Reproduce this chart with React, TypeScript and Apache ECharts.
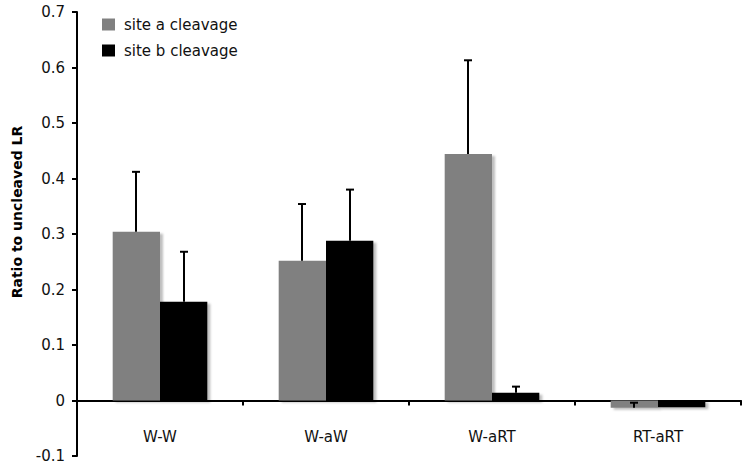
import React, { useEffect, useRef } from "react";
import * as echarts from "echarts";

const categories = ["W-W", "W-aW", "W-aRT", "RT-aRT"];
const siteA = [0.304, 0.252, 0.444, -0.013];
const siteB = [0.178, 0.288, 0.014, -0.012];
const errA = [0.108, 0.102, 0.169, 0.009];
const errB = [0.09, 0.092, 0.011, 0];
const seriesNames = ["site a cleavage", "site b cleavage"];
const yTicks = [-0.1, 0, 0.1, 0.2, 0.3, 0.4, 0.5, 0.6, 0.7];

const GAP = 0.43;
const FONT = "DejaVu Sans, Verdana, sans-serif";

function errorSeries(values: number[], errs: number[], sign: number) {
  return {
    type: "custom",
    silent: true,
    z: 5,
    data: values.map((v, i) => [i, v, errs[i]]),
    renderItem: (params: any, api: any) => {
      const idx = api.value(0);
      const val = api.value(1);
      const err = api.value(2);
      if (!err) return { type: "group", children: [] };
      const base = api.coord([idx, val]);
      const top = api.coord([idx, val + err]);
      const band = api.size([1, 0])[0];
      const bw = (band * (1 - GAP)) / 2;
      const x = Math.round(base[0] + (sign * bw) / 2);
      const st = { stroke: "#000", lineWidth: 2 };
      return {
        type: "group",
        children: [
          { type: "line", shape: { x1: x, y1: base[1], x2: x, y2: top[1] }, style: st },
          { type: "line", shape: { x1: x - 4, y1: top[1], x2: x + 4, y2: top[1] }, style: st },
        ],
      };
    },
  };
}

export default function App() {
  const ref = useRef<HTMLDivElement>(null);
  useEffect(() => {
    if (!ref.current) return;
    document.body.style.margin = "0";
    const chart = echarts.init(ref.current, undefined, { renderer: "svg" });
    const shadow = {
      shadowColor: "rgba(0,0,0,0.25)",
      shadowBlur: 2,
      shadowOffsetX: 3,
      shadowOffsetY: 2,
    };
    chart.setOption({
      animation: false,
      backgroundColor: "#fff",
      textStyle: { fontFamily: FONT },
      grid: {
        left: 77,
        right: 9,
        top: 12,
        bottom: 14,
        containLabel: false,
        outerBoundsMode: "none",
      },
      legend: {
        data: seriesNames,
        orient: "vertical",
        left: 97,
        top: 12,
        itemWidth: 13,
        itemHeight: 12,
        itemGap: 11,
        icon: "rect",
        textStyle: {
          fontSize: 15,
          color: "#111",
          fontFamily: FONT,
          padding: [0, 0, 0, 4],
        },
      },
      xAxis: {
        type: "category",
        data: categories,
        axisLine: { onZero: true, lineStyle: { color: "#000", width: 2 } },
        axisTick: { show: true, length: 5, lineStyle: { color: "#000", width: 2 } },
        axisLabel: { margin: -27, fontSize: 15, color: "#111", fontFamily: FONT },
        splitLine: { show: false },
      },
      yAxis: {
        type: "value",
        min: yTicks[0],
        max: yTicks[yTicks.length - 1],
        interval: 0.1,
        axisLine: { show: true, lineStyle: { color: "#000", width: 2 } },
        axisTick: { show: true, length: 5, lineStyle: { color: "#000", width: 2 } },
        axisLabel: {
          margin: 12,
          fontSize: 15,
          color: "#111",
          fontFamily: FONT,
          formatter: (v: number) => (Math.abs(v) < 1e-9 ? "0" : v.toFixed(1)),
        },
        splitLine: { show: false },
      },
      graphic: [
        {
          type: "text",
          x: 17,
          y: 212,
          rotation: Math.PI / 2,
          style: {
            text: "Ratio to uncleaved LR",
            fontSize: 14,
            fontWeight: "bold",
            fontFamily: FONT,
            fill: "#000",
            align: "center",
            verticalAlign: "middle",
          },
        },
      ],
      series: [
        {
          name: seriesNames[0],
          type: "bar",
          data: siteA,
          barGap: "0%",
          barCategoryGap: GAP * 100 + "%",
          itemStyle: { color: "#808080", ...shadow },
        },
        {
          name: seriesNames[1],
          type: "bar",
          data: siteB,
          barGap: "0%",
          barCategoryGap: GAP * 100 + "%",
          itemStyle: { color: "#000000", ...shadow },
        },
        errorSeries(siteA, errA, -1),
        errorSeries(siteB, errB, 1),
      ],
    });
    return () => chart.dispose();
  }, []);
  return (
    <div
      ref={ref}
      style={{ width: 750, height: 470, position: "fixed", left: 0, top: 0 }}
    />
  );
}
